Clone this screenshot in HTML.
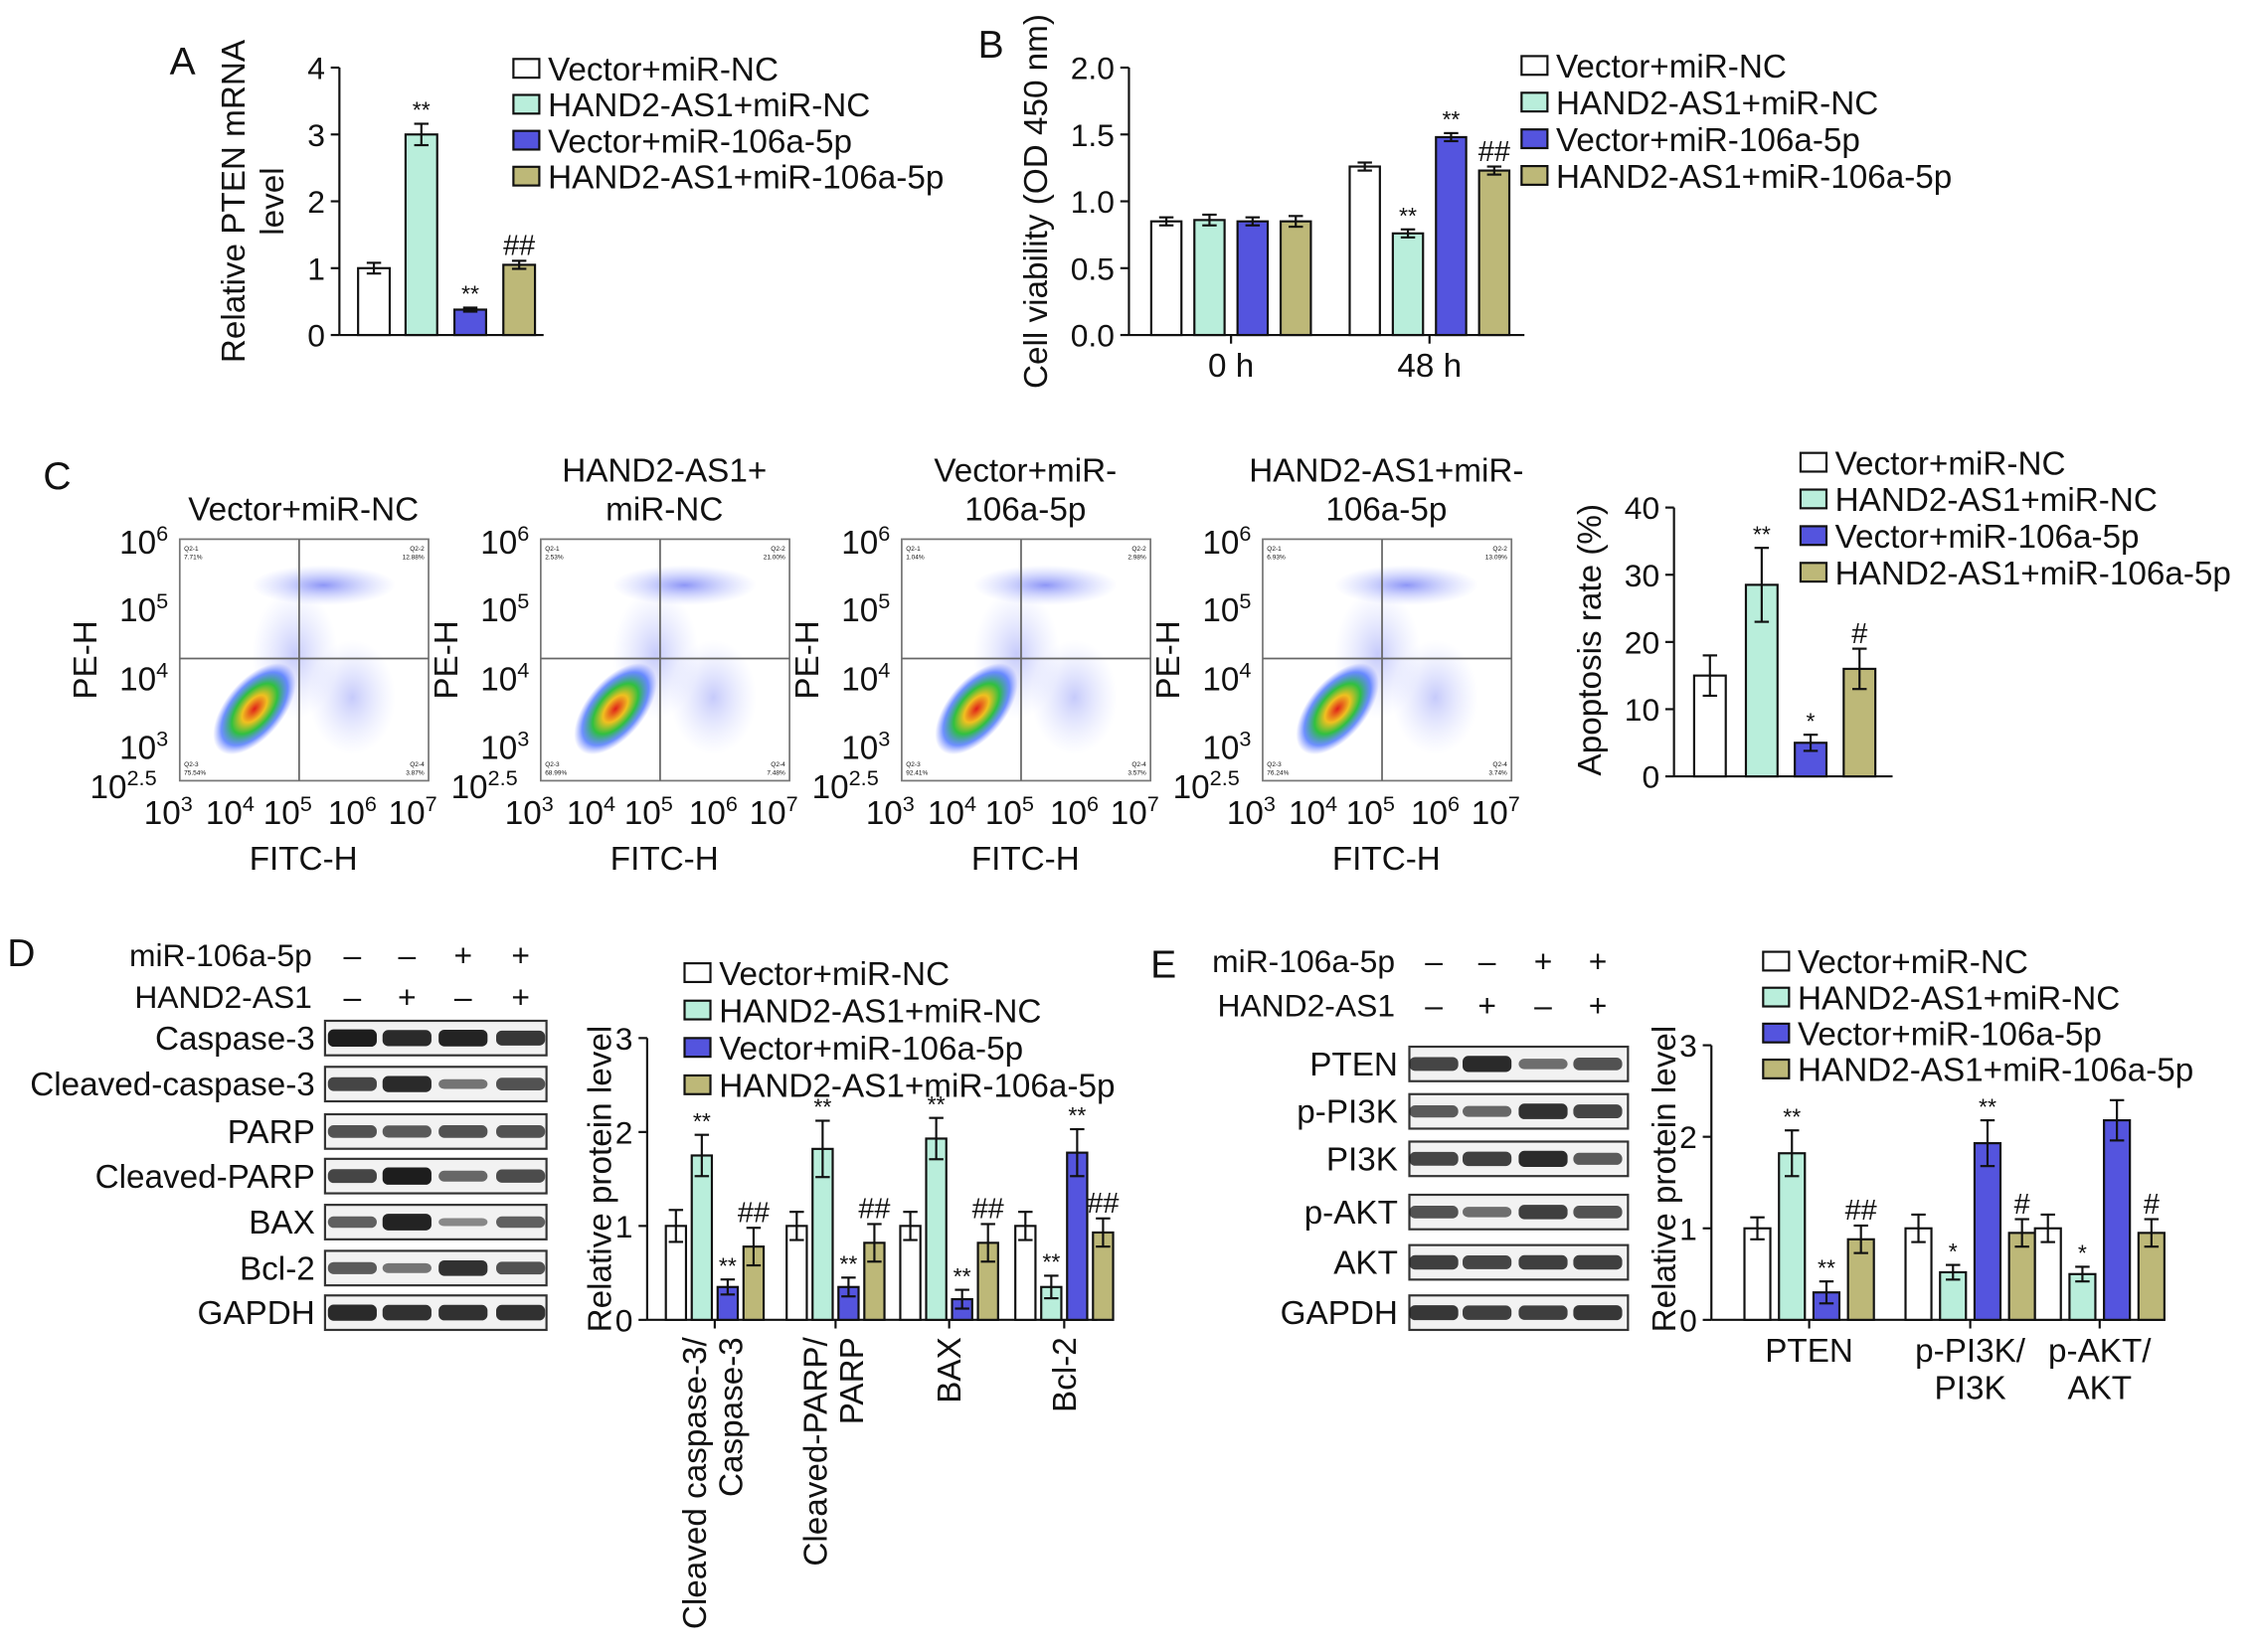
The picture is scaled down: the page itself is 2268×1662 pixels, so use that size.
<!DOCTYPE html>
<html><head><meta charset="utf-8"><style>
html,body{margin:0;padding:0;background:#fff}
svg{display:block}
text{font-family:"Liberation Sans",Arial,sans-serif;fill:#111}
</style></head><body>
<svg id="fig" width="2268" height="1662" viewBox="0 0 1568 1149" xmlns="http://www.w3.org/2000/svg">
<defs>
<radialGradient id="core" cx="50%" cy="50%" r="50%">
<stop offset="0" stop-color="#e0201a"/><stop offset="0.3" stop-color="#f0c020"/><stop offset="0.55" stop-color="#30c040"/><stop offset="0.8" stop-color="#3060ff" stop-opacity="0.7"/><stop offset="1" stop-color="#6070ff" stop-opacity="0"/>
</radialGradient>
<radialGradient id="halo" cx="50%" cy="50%" r="50%">
<stop offset="0" stop-color="#3040f0" stop-opacity="0.55"/><stop offset="1" stop-color="#8090ff" stop-opacity="0"/>
</radialGradient>
</defs>
<g id="root"></g>
</svg>
<script>
const SVGNS="http://www.w3.org/2000/svg";
const root=document.getElementById('root');
const FS=23;
const COLORS=["#ffffff","#b9eedb","#5454de","#bdb878"];
const SERIES=["Vector+miR-NC","HAND2-AS1+miR-NC","Vector+miR-106a-5p","HAND2-AS1+miR-106a-5p"];

// Panel A data
const aValues=[1.0,3.0,0.38,1.05];
const aErrors=[0.08,0.16,0.03,0.06];
const aMarks=["","**","**","##"];
const aTicks=[0,1,2,3,4];
// Panel B data
const bCategories=["0 h","48 h"];
const bValues=[[0.85,0.86,0.85,0.85],[1.26,0.76,1.48,1.23]];
const bErrors=[[0.03,0.04,0.03,0.04],[0.03,0.03,0.03,0.03]];
const bMarks=[["","","",""],["","**","**","##"]];
const bTicks=[0,0.5,1.0,1.5,2.0];
// Panel C bar data
const cValues=[15,28.5,5,16];
const cErrors=[3,5.5,1.2,3];
const cMarks=["","**","*","#"];
const cTicks=[0,10,20,30,40];
const flowTitles=[["Vector+miR-NC"],["HAND2-AS1+","miR-NC"],["Vector+miR-","106a-5p"],["HAND2-AS1+miR-","106a-5p"]];
const flowQuad=[["7.71%","12.88%","75.54%","3.87%"],["2.53%","21.00%","68.99%","7.48%"],["1.04%","2.98%","92.41%","3.57%"],["6.93%","13.09%","76.24%","3.74%"]];
// Panel D data
const dCategories=[["Cleaved caspase-3/","Caspase-3"],["Cleaved-PARP/","PARP"],["BAX"],["Bcl-2"]];
const dValues=[[1,1.75,0.35,0.78],[1,1.82,0.35,0.82],[1,1.93,0.22,0.82],[1,0.35,1.78,0.93]];
const dErrors=[[0.17,0.22,0.08,0.2],[0.15,0.3,0.1,0.2],[0.15,0.22,0.1,0.2],[0.15,0.12,0.25,0.15]];
const dMarks=[["","**","**","##"],["","**","**","##"],["","**","**","##"],["","**","**","##"]];
const dTicks=[0,1,2,3];
const dBlotLabels=["Caspase-3","Cleaved-caspase-3","PARP","Cleaved-PARP","BAX","Bcl-2","GAPDH"];
const dBands=[[1,0.9,0.95,0.8],[0.7,0.9,0.35,0.6],[0.6,0.55,0.6,0.6],[0.7,1,0.45,0.65],[0.5,0.95,0.2,0.5],[0.55,0.35,0.85,0.6],[0.9,0.85,0.85,0.85]];
// Panel E data
const eCategories=[["PTEN"],["p-PI3K/","PI3K"],["p-AKT/","AKT"]];
const eValues=[[1,1.82,0.3,0.88],[1,0.52,1.93,0.95],[1,0.5,2.18,0.95]];
const eErrors=[[0.12,0.25,0.12,0.15],[0.15,0.08,0.25,0.15],[0.15,0.08,0.22,0.15]];
const eMarks=[["","**","**","##"],["","*","**","#"],["","*","","#"]];
const eTicks=[0,1,2,3];
const eBlotLabels=["PTEN","p-PI3K","PI3K","p-AKT","AKT","GAPDH"];
const eBands=[[0.7,0.9,0.4,0.6],[0.55,0.45,0.85,0.7],[0.7,0.75,0.9,0.55],[0.6,0.4,0.75,0.6],[0.75,0.7,0.75,0.75],[0.8,0.75,0.75,0.8]];

function el(tag,attrs,parent){const e=document.createElementNS(SVGNS,tag);for(const k in attrs)e.setAttribute(k,attrs[k]);(parent||root).appendChild(e);return e;}
function txt(x,y,s,size,anchor,parent,extra){const t=el('text',Object.assign({x:x,y:y,'font-size':size,'text-anchor':anchor||'start'},extra||{}),parent);t.textContent=s;return t;}

function legend(x,y,dy,name){
  const g=el('g',{});
  
  
  SERIES.forEach((s,i)=>{
    const r=el('rect',{x:x,y:y+i*dy-7,width:18,height:13,fill:COLORS[i],stroke:'#111','stroke-width':1.5},g);
    
    
    const t=txt(x+24,y+i*dy+8,s,FS,'start',g);
    
    
  });
}
function yAxis(g,x,y0,y1,ticks,max,fmt){
  const sc=v=>y0-(v/max)*(y0-y1);
  el('line',{x1:x,y1:y0,x2:x,y2:sc(ticks[ticks.length-1]),stroke:'#111','stroke-width':1.5},g);
  ticks.forEach(t=>{const y=sc(t);el('line',{x1:x-6,y1:y,x2:x,y2:y,stroke:'#111','stroke-width':1.5},g);txt(x-10,y+8,fmt?fmt(t):String(t),FS-1,'end',g);});
  return sc;
}
function bar(g,cx,w,v,err,sc,color,mark,name){
  const y=sc(v),y0=sc(0);
  const r=el('rect',{x:cx-w/2,y:y,width:w,height:y0-y,fill:color,stroke:'#111','stroke-width':1.5},g);
  
  
  const yt=sc(v+err),yb=sc(Math.max(0,v-err));
  el('line',{x1:cx,y1:yt,x2:cx,y2:yb,stroke:'#111','stroke-width':1.5},g);
  el('line',{x1:cx-5,y1:yt,x2:cx+5,y2:yt,stroke:'#111','stroke-width':1.5},g);
  el('line',{x1:cx-5,y1:yb,x2:cx+5,y2:yb,stroke:'#111','stroke-width':1.5},g);
  if(mark){const big=mark.indexOf('#')>=0;txt(cx,yt-4,mark,big?20:16,'middle',g);}
}
function panelLabel(x,y,s){const t=txt(x,y,s,27,'start');}

// ---------- Panel A ----------
panelLabel(118,52,'A');
(function(){
  const g=el('g',{});
  const sc=yAxis(g,236,233,47,aTicks,4);
  el('line',{x1:236,y1:233,x2:378,y2:233,stroke:'#111','stroke-width':1.5},g);
  const cxs=[260,293,327,361];
  aValues.forEach((v,i)=>bar(g,cxs[i],22,v,aErrors[i],sc,COLORS[i],aMarks[i],'bar-a-'+i));
  const t=txt(0,0,'Relative PTEN mRNA',FS,'middle',g,{transform:'translate(170,140) rotate(-90)'});
  txt(0,0,'level',FS,'middle',g,{transform:'translate(197,140) rotate(-90)'});
  
  legend(357,48,25,'legend-a');
})();

// ---------- Panel B ----------
panelLabel(680,40,'B');
(function(){
  const g=el('g',{});
  const sc=yAxis(g,785,233,47,bTicks,2.0,v=>v.toFixed(1));
  el('line',{x1:785,y1:233,x2:1060,y2:233,stroke:'#111','stroke-width':1.5},g);
  const gc=[856,994];
  bCategories.forEach((c,ci)=>{
    el('line',{x1:gc[ci],y1:233,x2:gc[ci],y2:239,stroke:'#111','stroke-width':1.5},g);
    txt(gc[ci],262,c,FS,'middle',g);
    bValues[ci].forEach((v,i)=>bar(g,gc[ci]-45+i*30,21,v,bErrors[ci][i],sc,COLORS[i],bMarks[ci][i],'bar-b-'+ci+'-'+i));
  });
  txt(0,0,'Cell viability (OD 450 nm)',FS,'middle',g,{transform:'translate(728,140) rotate(-90)'});
  legend(1058,46,25.5,'legend-b');
})();

// ---------- Panel C flow plots ----------
panelLabel(30,340,'C');
[125,376,627,878].forEach((x0,p)=>{
  const g=el('g',{});
  const y0=375,w=173,h=168;
  const tl=flowTitles[p];
  if(tl.length===1)txt(x0+86,362,tl[0],FS,'middle',g);
  else{txt(x0+86,335,tl[0],FS,'middle',g);txt(x0+86,362,tl[1],FS,'middle',g);}
  el('ellipse',{cx:x0+100,cy:y0+32,rx:50,ry:14,fill:'url(#halo)'},g);
  el('ellipse',{cx:x0+80,cy:y0+80,rx:30,ry:45,fill:'url(#halo)',opacity:0.5},g);
  el('ellipse',{cx:x0+120,cy:y0+110,rx:30,ry:40,fill:'url(#halo)',opacity:0.5},g);
  el('ellipse',{cx:x0+52,cy:y0+118,rx:38,ry:20,fill:'url(#core)',transform:`rotate(-50 ${x0+52} ${y0+118})`},g);
  el('rect',{x:x0,y:y0,width:w,height:h,fill:'none',stroke:'#777','stroke-width':1.2},g);
  el('line',{x1:x0+83,y1:y0,x2:x0+83,y2:y0+h,stroke:'#666','stroke-width':1.2},g);
  el('line',{x1:x0,y1:y0+83,x2:x0+w,y2:y0+83,stroke:'#666','stroke-width':1.2},g);
  const q=flowQuad[p];
  txt(x0+3,y0+8,'Q2-1',4.5,'start',g);txt(x0+3,y0+14,q[0],4.5,'start',g);
  txt(x0+w-3,y0+8,'Q2-2',4.5,'end',g);txt(x0+w-3,y0+14,q[1],4.5,'end',g);
  txt(x0+3,y0+h-10,'Q2-3',4.5,'start',g);txt(x0+3,y0+h-4,q[2],4.5,'start',g);
  txt(x0+w-3,y0+h-10,'Q2-4',4.5,'end',g);txt(x0+w-3,y0+h-4,q[3],4.5,'end',g);
  const ylab=[[6,y0+3],[5,y0+50],[4,y0+98],[3,y0+146]];
  ylab.forEach(([e,y])=>{const t=txt(x0-8,y+7,'10',FS,'end',g);const s=el('tspan',{dy:-9,'font-size':15},t);s.textContent=e;});
  {const t=txt(x0-16,y0+h+12,'10',FS,'end',g);const s=el('tspan',{dy:-9,'font-size':15},t);s.textContent='2.5';}
  [[3,0],[4,43],[5,83],[6,128],[7,170]].forEach(([e,dx])=>{const t=txt(x0+dx-8,y0+h+30,'10',FS,'middle',g);const s=el('tspan',{dy:-9,'font-size':15},t);s.textContent=e;});
  txt(x0+86,y0+h+62,'FITC-H',FS,'middle',g);
  txt(0,0,'PE-H',FS,'middle',g,{transform:`translate(${x0-58},${y0+84}) rotate(-90)`});
});

// ---------- Panel C bar ----------
(function(){
  const g=el('g',{});
  const sc=yAxis(g,1164,540,353,cTicks,40);
  el('line',{x1:1164,y1:540,x2:1316,y2:540,stroke:'#111','stroke-width':1.5},g);
  const cxs=[1189,1225,1259,1293];
  cValues.forEach((v,i)=>bar(g,cxs[i],22,v,cErrors[i],sc,COLORS[i],cMarks[i],'bar-c-'+i));
  txt(0,0,'Apoptosis rate (%)',FS,'middle',g,{transform:'translate(1113,445) rotate(-90)'});
  legend(1252,322,25.5,'legend-c');
})();

// ---------- Blots ----------
function blots(g,x0,x1,labels,ys,bands,lanes,labelX,hdrY,signs){
  const rowNames=['miR-106a-5p','HAND2-AS1'];
  rowNames.forEach((n,r)=>{
    txt(labelX-2,hdrY[r]+7,n,FS-1,'end',g);
    lanes.forEach((lx,i)=>txt(lx,hdrY[r]+7,signs[r][i],FS-1,'middle',g));
  });
  labels.forEach((lab,r)=>{
    const y=ys[r];
    const rg=el('g',{},g);
    
    
    txt(labelX,y+8,lab,FS,'end',rg);
    el('rect',{x:x0,y:y-12,width:x1-x0,height:24,fill:'#f2f2f2',stroke:'#333','stroke-width':1.5},rg);
    bands[r].forEach((b,i)=>{
      el('rect',{x:lanes[i]-17,y:y-2-b*4,width:34,height:4+b*8,rx:4,fill:'#111',opacity:0.35+b*0.6},rg);
    });
  });
}
const signsCommon=[['–','–','+','+'],['–','+','–','+']];

// ---------- Panel D ----------
panelLabel(5,672,'D');
(function(){
  const g=el('g',{});
  blots(g,226,380,dBlotLabels,[722,754,787,818,850,882,913],dBands,[245,283,322,362],219,[665,694],signsCommon);
})();
(function(){
  const g=el('g',{});
  const sc=yAxis(g,450,918,722,dTicks,3);
  el('line',{x1:450,y1:918,x2:763,y2:918,stroke:'#111','stroke-width':1.5},g);
  const gc=[497,581,660,740];
  dCategories.forEach((c,ci)=>{
    el('line',{x1:gc[ci],y1:918,x2:gc[ci],y2:924,stroke:'#111','stroke-width':1.5},g);
    dValues[ci].forEach((v,i)=>bar(g,gc[ci]-27+i*18,14,v,dErrors[ci][i],sc,COLORS[i],dMarks[ci][i],'bar-d-'+ci+'-'+i));
    if(c.length===2){
      txt(0,0,c[0],FS,'end',g,{transform:`translate(${gc[ci]-6},930) rotate(-90)`});
      txt(0,0,c[1],FS,'end',g,{transform:`translate(${gc[ci]+19},930) rotate(-90)`});
    } else txt(0,0,c[0],FS,'end',g,{transform:`translate(${gc[ci]+8},930) rotate(-90)`});
  });
  txt(0,0,'Relative protein level',FS,'middle',g,{transform:'translate(425,820) rotate(-90)'});
  legend(476,677,26,'legend-d');
})();

// ---------- Panel E ----------
panelLabel(800,680,'E');
(function(){
  const g=el('g',{});
  blots(g,980,1132,eBlotLabels,[740,773,806,843,878,913],eBands,[997,1034,1073,1111],972,[669,700],signsCommon);
})();
(function(){
  const g=el('g',{});
  const sc=yAxis(g,1190,918,727,eTicks,3);
  el('line',{x1:1190,y1:918,x2:1505,y2:918,stroke:'#111','stroke-width':1.5},g);
  const gc=[1258,1370,1460];
  eCategories.forEach((c,ci)=>{
    el('line',{x1:gc[ci],y1:918,x2:gc[ci],y2:924,stroke:'#111','stroke-width':1.5},g);
    eValues[ci].forEach((v,i)=>bar(g,gc[ci]-36+i*24,18,v,eErrors[ci][i],sc,COLORS[i],eMarks[ci][i],'bar-e-'+ci+'-'+i));
    c.forEach((s,li)=>txt(gc[ci],947+li*26,s,FS,'middle',g));
  });
  txt(0,0,'Relative protein level',FS,'middle',g,{transform:'translate(1165,820) rotate(-90)'});
  legend(1226,669,25,'legend-e');
})();
</script>
</body></html>
